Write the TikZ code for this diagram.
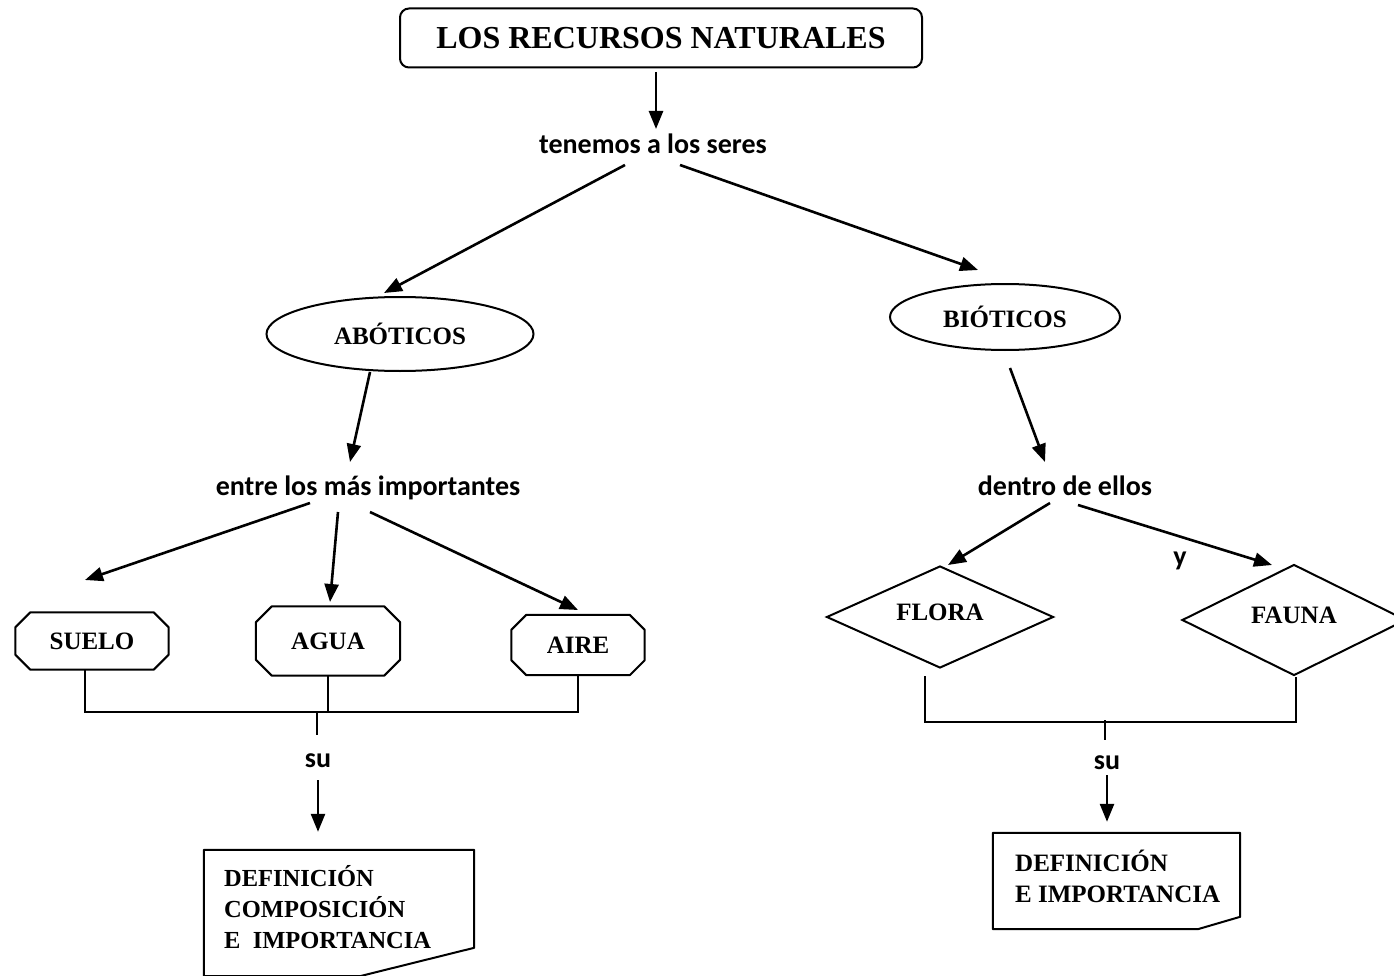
\documentclass[tikz,border=0pt]{standalone}
\usepackage{fontspec}
\setmainfont{Liberation Serif}
\newfontfamily\lnkfont{Carlito}
\usetikzlibrary{arrows.meta,shapes.geometric,calc}
\newcommand\octpath[2]{\draw[frame] ($(#1.north west)+(#2,0)$) -- ($(#1.north east)+(-#2,0)$) -- ($(#1.north east)+(0,#2)$) -- ($(#1.south east)+(0,-#2)$) -- ($(#1.south east)+(-#2,0)$) -- ($(#1.south west)+(#2,0)$) -- ($(#1.south west)+(0,-#2)$) -- ($(#1.north west)+(0,#2)$) -- cycle;}
\tikzset{
  frame/.style={line width=2pt, line join=round},
  arr/.style={line width=2.6pt, -{Triangle[length=18pt,width=14pt]}},
  conn/.style={line width=2pt},
  link/.style={font=\lnkfont\bfseries\fontsize{28}{30}\selectfont, inner sep=0pt, text height=25pt, text depth=6pt},
  concept/.style={font=\bfseries\fontsize{25}{31}\selectfont, inner sep=0pt},
  ell/.style={concept, draw, ellipse, line width=2pt},
  octbox/.style={concept},
  dia/.style={concept, draw, diamond, shape aspect=2.2, line width=2pt, text height=17pt, text depth=10pt},
  doctext/.style={inner sep=0pt, align=left, anchor=west}
}
\begin{document}
\begin{tikzpicture}[x=1pt,y=-1pt]
\useasboundingbox (0,0) rectangle (1394,976);
\fill[white] (0,0) rectangle (1394,976);

% title
\node[draw, frame, rounded corners=9pt, minimum width=522pt, minimum height=59pt, font=\bfseries\fontsize{32}{36}\selectfont, inner sep=0pt] (title) at (661,38) {LOS RECURSOS NATURALES};

% linking words
\node[link] (l1) at (653,144) {tenemos a los seres};
\node[link] (l2) at (368,486) {entre los más importantes};
\node[link] (l3) at (1065,486) {dentro de ellos};
\node[link] (y) at (1180,556) {y};
\node[link] (su1) at (318,758) {su};
\node[link] (su2) at (1107,760) {su};

% concepts
\node[ell, minimum width=267pt, minimum height=74pt] (abio) at (400,334) {ABÓTICOS};
\node[ell, minimum width=230pt, minimum height=66pt] (bio) at (1005,317) {BIÓTICOS};

\node[octbox, minimum width=153pt, minimum height=57pt] (suelo) at (92,641) {SUELO};
\node[octbox, minimum width=144pt, minimum height=69pt] (agua) at (328,641) {AGUA};
\node[octbox, minimum width=133pt, minimum height=60pt] (aire) at (578,645) {AIRE};
\octpath{suelo}{15}
\octpath{agua}{16}
\octpath{aire}{15}

\node[dia, minimum width=227pt, minimum height=102pt] (flora) at (940,617) {FLORA};
\node[dia, minimum width=224pt, minimum height=111pt] (fauna) at (1294,620) {FAUNA};

% documents
\node[minimum width=270pt, minimum height=126pt, inner sep=0pt] (doc1) at (339,913) {};
\draw[frame] (doc1.south west) -- (doc1.north west) -- (doc1.north east) -- ($(doc1.north east)+(0,98)$) -- ($(doc1.south west)+(156,0)$) -- cycle;
\node[doctext, font=\bfseries\fontsize{24.5}{31}\selectfont] (doc1t) at (224,907) {DEFINICIÓN\\COMPOSICIÓN\\E\ \ IMPORTANCIA};
\node[minimum width=247pt, minimum height=96pt, inner sep=0pt] (doc2) at (1116.5,881) {};
\draw[frame] (doc2.south west) -- (doc2.north west) -- (doc2.north east) -- ($(doc2.north east)+(0,84)$) -- ($(doc2.south west)+(205,0)$) -- cycle;
\node[doctext, font=\bfseries\fontsize{25}{31}\selectfont] (doc2t) at (1015,876) {DEFINICIÓN\\E IMPORTANCIA};

% arrows
\draw[arr] ($(title)+(-5,34)$) -- ($(l1)+(3,-15)$);
\draw[arr] ($(l1)+(-28,21)$) -- ($(abio)+(-16,-41)$);
\draw[arr] ($(l1)+(27,21)$) -- ($(bio)+(-27,-47)$);
\draw[arr] ($(abio)+(-30,38)$) -- ($(l2)+(-18,-24)$);
\draw[arr] ($(bio)+(5,51)$) -- ($(l3)+(-20,-24)$);
\draw[arr] ($(l2)+(-58,17)$) -- ($(suelo)+(-7,-61)$);
\draw[arr] ($(l2)+(-30,26)$) -- ($(agua)+(2,-39)$);
\draw[arr] ($(l2)+(2,26)$) -- ($(aire)+(0,-35)$);
\draw[arr] ($(l3)+(-15,17)$) -- ($(flora)+(8,-52)$);
\draw[arr] ($(l3)+(13,19)$) -- ($(fauna)+(-22,-55)$);

% brackets left
\draw[conn] ($(suelo.south)+(-7,0)$) |- ($(aire.south)+(0,37)$) -- (aire.south);
\draw[conn] (agua.south) -- ++(0,37);
\draw[conn] ($(su1)+(-1,-46)$) -- ($(su1)+(-1,-23)$);
\draw[arr] ($(su1)+(0,22)$) -- ($(doc1.north)+(-21,-18)$);

% brackets right
\draw[conn] ($(flora.south)+(-15,7)$) |- ($(fauna.south)+(2,45)$) -- ($(fauna.south)+(2,0)$);
\draw[conn] ($(su2)+(-2,-40)$) -- ($(su2)+(-2,-20)$);
\draw[arr] ($(su2)+(0,15)$) -- ($(doc2.north)+(-9.5,-11)$);
\end{tikzpicture}
\end{document}
